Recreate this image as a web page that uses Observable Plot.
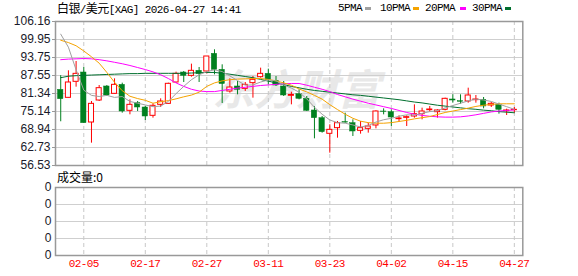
<!DOCTYPE html>
<html><head><meta charset="utf-8">
<script src="https://cdn.jsdelivr.net/npm/d3@7"></script>
<script src="https://cdn.jsdelivr.net/npm/@observablehq/plot@0.6"></script>
<style>
body{margin:0;background:#fff;}
#wrap{position:relative;width:578px;height:276px;overflow:hidden;background:#fff;}
.abs{position:absolute;white-space:nowrap;line-height:12px;}
.mono{font-family:"Liberation Mono","Noto Sans CJK SC",monospace;font-size:11px;letter-spacing:-0.6px;color:#000;}
.cjk{font-family:"Noto Sans CJK SC",sans-serif;font-size:12px;color:#000;}
.sq{position:absolute;width:6px;height:3px;top:7px;}
#vol svg text.xl{letter-spacing:-0.6px;}
</style></head><body>
<div id="wrap">
  <div id="main" class="abs" style="left:0;top:0"></div>
  <div id="vol" class="abs" style="left:0;top:176px"></div>
  <div class="abs mono" style="left:57px;top:2px;"><span class="cjk" style="font-size:12px">白银</span>/<span class="cjk">美元</span>[XAG] 2026-04-27 14:41</div>
  <div id="legend"></div>
  <div class="abs cjk" style="left:57px;top:171px;">成交量:0</div>
</div>
<script>
// ---- data ----
const tickLabels = ["02-05","02-17","02-27","03-11","03-23","04-02","04-15","04-27"];
const tickIndex  = [3, 11, 19, 27, 35, 43, 51, 59];
const yTicks = [56.53, 62.73, 68.94, 75.14, 81.34, 87.55, 93.75, 99.95, 106.16];
const volTicks = [0, 1, 2, 3, 4];

const opens = [82.61,79.85,85.37,88.58,71.35,78.93,83.76,81.23,84.33,75.37,
  78.01,76.52,73.65,77.44,77.78,85.14,88.58,87.43,89.16,88.93,
  95.02,89.50,82.04,83.76,82.95,84.91,86.97,88.12,85.71,83.76,
  80.55,81.12,79.51,75.49,72.84,67.45,69.40,71.47,71.12,68.48,
  69.17,70.32,75.14,74.91,72.50,72.96,73.42,74.22,75.60,74.91,
  75.72,79.28,78.70,78.59,79.05,79.16,77.21,77.44,75.26,75.60];
const closes = [79.39,85.14,88.12,71.12,77.78,83.18,80.66,84.33,75.14,77.44,
  76.52,73.42,77.10,78.59,84.68,88.12,87.43,89.16,88.01,94.10,
  89.50,84.60,83.41,82.61,84.33,86.06,88.12,86.06,84.10,80.66,
  80.85,79.51,75.37,72.84,68.02,68.82,71.12,71.30,68.25,69.40,
  69.97,75.14,75.00,73.07,72.73,73.19,74.22,75.14,75.83,75.49,
  79.51,78.93,78.47,80.66,79.28,76.87,77.78,75.72,75.49,75.72];
const highs = [87.50,89.16,92.37,90.31,78.59,84.10,84.10,86.40,84.91,79.16,
  78.59,76.87,77.78,79.51,84.91,88.70,88.93,91.46,90.31,94.10,
  96.40,91.23,86.41,85.48,85.14,87.20,90.08,89.73,87.20,85.48,
  81.80,82.61,80.31,76.87,73.42,70.55,71.70,74.57,72.27,71.70,
  71.12,75.37,76.06,75.72,73.65,73.65,77.44,76.29,76.87,75.72,
  79.74,80.89,80.89,83.18,80.66,79.97,78.24,78.01,75.95,76.52];
const lows = [71.60,79.85,83.53,71.12,64.23,78.59,80.31,81.12,74.57,74.00,
  75.14,72.04,72.85,76.52,77.67,84.91,85.14,86.97,85.14,88.12,
  87.78,77.90,81.46,80.89,82.04,79.74,86.63,84.33,83.76,80.31,
  77.44,79.16,75.14,65.72,67.68,60.78,65.95,71.12,66.53,67.33,
  67.68,69.17,73.99,69.97,71.47,69.97,72.84,72.27,74.91,72.85,
  75.37,78.01,77.67,78.01,78.01,76.06,76.52,74.22,73.76,74.57];

const ma5 = [101.8,97.3,89.5,82.5,80.7,80.3,80.7,80.0,80.3,78.6,
  78.0,77.4,76.8,77.0,78.6,81.3,83.8,86.1,87.8,88.9,
  89.5,88.9,87.4,85.8,84.2,84.3,85.3,86.0,85.7,84.3,
  83.2,81.8,79.5,76.6,74.2,72.2,71.3,71.1,70.5,69.8,
  70.3,71.5,72.3,72.8,73.5,74.0,73.9,74.5,75.1,75.4,
  76.4,77.2,78.0,78.8,79.4,79.1,78.6,77.7,76.8,75.9];
const ma10 = [99.7,98.9,97.8,96.0,94.0,91.8,88.6,85.2,82.3,80.4,
  79.6,79.0,78.0,78.5,78.9,79.5,80.2,80.8,81.8,83.8,
  85.0,85.7,86.1,86.3,86.4,86.5,86.5,86.2,85.7,85.0,
  84.2,82.9,81.9,80.7,79.4,77.5,75.8,74.2,72.8,71.8,
  71.3,71.1,71.1,71.3,71.7,72.1,72.6,73.0,73.4,74.1,
  74.8,75.3,75.8,76.3,76.9,77.3,77.6,77.8,77.8,77.8];
const ma20 = [93.0,93.2,93.3,93.4,93.3,93.0,92.6,92.1,91.6,91.0,
  90.3,89.6,88.8,87.8,86.5,85.0,83.8,82.8,82.2,82.0,
  82.0,82.4,82.8,83.2,83.5,83.8,84.1,84.3,84.5,84.7,
  84.8,84.8,84.2,83.5,82.8,82.0,81.0,80.2,79.4,78.7,
  78.0,77.4,76.8,76.2,75.5,74.8,74.2,73.8,73.5,73.3,
  73.2,73.2,73.3,73.6,74.0,74.5,75.0,75.3,75.5,75.7];
const ma30 = [86.8,87.3,87.5,87.6,87.7,87.8,87.9,88.0,88.1,88.2,
  88.2,88.3,88.3,88.3,88.3,88.3,88.3,88.4,88.5,88.6,
  88.6,88.3,88.0,87.6,87.2,86.8,86.2,85.6,85.0,84.4,
  83.8,83.3,82.8,82.4,82.1,81.8,81.5,81.2,80.9,80.7,
  80.4,80.1,79.8,79.5,79.2,78.8,78.4,78.1,77.7,77.3,
  77.0,76.7,76.4,76.1,75.9,75.6,75.4,75.1,74.9,74.7];

const maNames = ["5PMA","10PMA","20PMA","30PMA"];

// ---- style ----
const RED = "#ff0000", GREEN = "#00801f";
const maColors = ["#a0a0a0","#f5a300","#ff00ff","#006f2e"];
const xDomain = [-0.68, 60.1];

const candles = opens.map((o, i) => ({i, o, c: closes[i], h: highs[i], l: lows[i]}));
const ups = candles.filter(d => d.c >= d.o);
const downs = candles.filter(d => d.c < d.o);
const maSeries = [ma30, ma20, ma10, ma5];
const maCols = [maColors[3], maColors[2], maColors[1], maColors[0]];

const main = Plot.plot({
  width: 578, height: 176,
  marginLeft: 55, marginRight: 55.7, marginTop: 21, marginBottom: 11,
  x: {domain: xDomain, axis: null},
  y: {domain: [56.53, 106.16]},
  style: {background: "transparent", overflow: "visible", fontFamily: "'Liberation Sans', Arial, sans-serif", fontSize: "12px"},
  marks: [
    Plot.text(["东方财富"], {frameAnchor: "middle", dx: 7, dy: -2, fontSize: 42, fontWeight: "bold", fontStyle: "italic", fill: "#e8e8e8", fontFamily: "Noto Sans CJK SC"}),
    Plot.gridY(yTicks, {stroke: "#cfcfcf", strokeOpacity: 1}),
    Plot.gridX(tickIndex, {stroke: "#c8c8c8", strokeOpacity: 1, strokeDasharray: "4,3"}),
    Plot.axisY(yTicks, {tickSize: 3, tickPadding: 2, tickFormat: d => d.toFixed(2), fontSize: 12, color: "#1a1a2a", stroke: "#999"}),
    Plot.ruleX(downs, {x: "i", y1: "l", y2: "h", stroke: GREEN}),
    Plot.ruleX(ups, {x: "i", y1: "l", y2: "h", stroke: RED}),
    Plot.rect(downs, {x1: d => d.i - 0.35, x2: d => d.i + 0.35, y1: "o", y2: "c", fill: GREEN, stroke: GREEN, strokeWidth: 0.5}),
    Plot.rect(ups, {x1: d => d.i - 0.33, x2: d => d.i + 0.33, y1: "o", y2: "c", fill: "white", stroke: RED, strokeWidth: 1}),
    ...maSeries.map((s, k) => Plot.line(s.map((v, i) => ({i, v})), {x: "i", y: "v", stroke: maCols[k], strokeWidth: 1})),
    Plot.frame({stroke: "#999", strokeWidth: 1.5})
  ]
});
document.getElementById("main").appendChild(main);

const vol = Plot.plot({
  width: 578, height: 100,
  marginLeft: 55, marginRight: 55.7, marginTop: 11, marginBottom: 21,
  x: {domain: xDomain},
  y: {domain: [0, 4]},
  style: {background: "transparent", overflow: "visible", fontFamily: "'Liberation Sans', Arial, sans-serif", fontSize: "12px"},
  marks: [
    Plot.gridY(volTicks, {stroke: "#cfcfcf", strokeOpacity: 1}),
    Plot.gridX(tickIndex, {stroke: "#c8c8c8", strokeOpacity: 1, strokeDasharray: "4,3"}),
    Plot.axisY(volTicks, {tickSize: 0, tickPadding: 4, tickFormat: () => "0", fontSize: 12, color: "#1a1a2a"}),
    Plot.axisX(tickIndex, {tickSize: 0, tickPadding: 4, tickFormat: d => tickLabels[tickIndex.indexOf(d)], fontSize: 11, fill: RED, fontFamily: "'Liberation Mono', monospace", className: "xl"}),
    Plot.frame({stroke: "#999", strokeWidth: 1.5})
  ]
});
document.getElementById("vol").appendChild(vol);
vol.querySelectorAll("g[aria-label='x-axis tick label'] text").forEach(t => t.style.letterSpacing = "-0.6px");

// legend
const legendPos = [[338, 365], [380, 413], [425, 460], [472, 505]];
const lg = document.getElementById("legend");
maNames.forEach((n, k) => {
  const t = document.createElement("div");
  t.className = "abs mono"; t.style.left = legendPos[k][0] + "px"; t.style.top = "2px"; t.textContent = n;
  lg.appendChild(t);
  const s = document.createElement("div");
  s.className = "sq"; s.style.left = legendPos[k][1] + "px"; s.style.background = maColors[k];
  lg.appendChild(s);
});
</script>
</body></html>
